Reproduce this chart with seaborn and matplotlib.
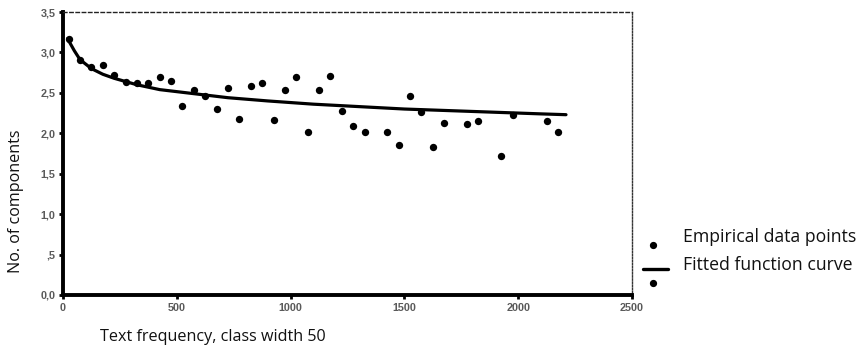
import matplotlib
matplotlib.use("Agg")
import matplotlib.pyplot as plt
from matplotlib.lines import Line2D
import seaborn as sns
import pandas as pd

# Empirical data points (class midpoints, class width 50)
emp_x = [25, 75, 125, 175, 225, 275, 325, 375, 425, 475, 525, 575, 625, 675,
         725, 775, 825, 875, 925, 975, 1025, 1075, 1125, 1175, 1225, 1275,
         1325, 1425, 1475, 1525, 1575, 1625, 1675, 1775, 1825, 1925, 1975,
         2125, 2175]
emp_y = [3.16, 2.91, 2.82, 2.85, 2.72, 2.64, 2.62, 2.62, 2.69, 2.65, 2.34, 2.53,
         2.46, 2.30, 2.56, 2.18, 2.59, 2.62, 2.16, 2.53, 2.70, 2.01, 2.53, 2.71,
         2.28, 2.09, 2.01, 2.01, 1.86, 2.46, 2.26, 1.83, 2.13, 2.11, 2.15, 1.72,
         2.23, 2.15, 2.01]

# Fitted function curve
fit_x = [20, 50, 75, 125, 175, 225, 325, 425, 575, 725, 900, 1100, 1300, 1500,
         1700, 1900, 2100, 2210]
fit_y = [3.17, 3.02, 2.91, 2.80, 2.73, 2.68, 2.60, 2.54, 2.49, 2.44, 2.40, 2.36,
         2.33, 2.30, 2.28, 2.26, 2.24, 2.23]

x_ticks = [0, 500, 1000, 1500, 2000, 2500]
y_ticks = [0.0, 0.5, 1.0, 1.5, 2.0, 2.5, 3.0, 3.5]
y_tick_labels = ["0,0", ",5", "1,0", "1,5", "2,0", "2,5", "3,0", "3,5"]
legend_labels = ["Empirical data points", "Fitted function curve"]

emp = pd.DataFrame({"x": emp_x, "y": emp_y})
fit = pd.DataFrame({"x": fit_x, "y": fit_y})

sns.set_style("white")
plt.rcParams["font.family"] = ["Liberation Sans", "DejaVu Sans"]

fig = plt.figure(figsize=(8.59, 3.52), dpi=100)
ax = fig.add_axes([63 / 859, 1 - 295 / 352, (632 - 63) / 859, (295 - 12) / 352])

sns.lineplot(data=fit, x="x", y="y", ax=ax, color="black", linewidth=2.3,
             zorder=2)
sns.scatterplot(data=emp, x="x", y="y", ax=ax, color="black", s=28,
                edgecolor="black", linewidth=0, marker="o", zorder=3)

ax.set_xlim(0, 2500)
ax.set_ylim(0, 3.5)
ax.set_xticks(x_ticks)
ax.set_xticklabels([str(t) for t in x_ticks])
ax.set_yticks(y_ticks)
ax.set_yticklabels(y_tick_labels)
ax.set_xlabel("")
ax.set_ylabel("")

for lab in ax.get_xticklabels() + ax.get_yticklabels():
    lab.set_color("#5a5a5a")
    lab.set_fontsize(7.8)
    lab.set_fontweight("bold")
    lab.set_family(["Liberation Sans", "DejaVu Sans"])

ax.tick_params(axis="both", which="both", length=3, width=2, color="black",
               direction="out", pad=2.5, bottom=True, left=True)

for s in ["left", "bottom"]:
    ax.spines[s].set_linewidth(2.8)
    ax.spines[s].set_color("black")
ax.spines["top"].set_linewidth(1.0)
ax.spines["top"].set_linestyle((0, (2.5, 2)))
ax.spines["top"].set_color("#222222")
ax.spines["right"].set_linewidth(1.0)
ax.spines["right"].set_linestyle((0, (1, 1.2)))
ax.spines["right"].set_color("#333333")

txt_font = ["Open Sans", "DejaVu Sans"]
fig.text(15.5 / 859, 1 - 201 / 352, "No. of components", rotation=90,
         ha="center", va="center", fontsize=11.6, family=txt_font, color="#111111")
fig.text(100 / 859, 1 - 337 / 352, "Text frequency, class width 50",
         ha="left", va="center", fontsize=11.6, family=txt_font, color="#111111")

# Legend (drawn manually to mimic the original placement)
fig.text(683 / 859, 1 - 237 / 352, legend_labels[0], ha="left", va="center",
         fontsize=12.7, family=txt_font, color="#111111")
fig.text(683 / 859, 1 - 265 / 352, legend_labels[1], ha="left", va="center",
         fontsize=12.7, family=txt_font, color="#111111")
fig.add_artist(Line2D([653 / 859], [1 - 245 / 352], marker="o", color="black",
                      markersize=4.2, linestyle="none", transform=fig.transFigure))
fig.add_artist(Line2D([643 / 859, 668 / 859], [1 - 269 / 352, 1 - 269 / 352],
                      color="black", linewidth=2.4, transform=fig.transFigure))
fig.add_artist(Line2D([653 / 859], [1 - 283 / 352], marker="o", color="black",
                      markersize=4.2, linestyle="none", transform=fig.transFigure))

fig.savefig("out.png", dpi=100)
